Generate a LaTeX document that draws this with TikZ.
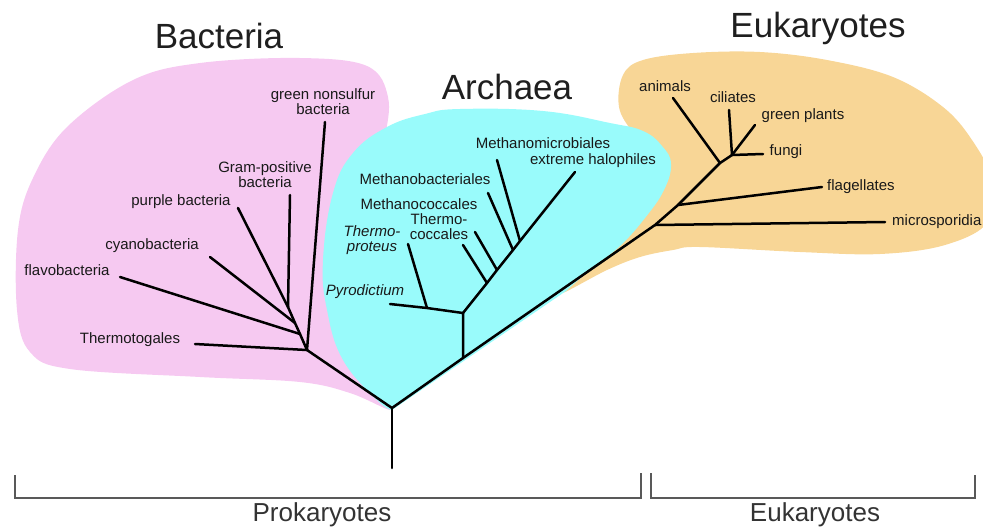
\documentclass[tikz,border=0pt]{standalone}
\usepackage{fontspec}
\setmainfont{Liberation Sans}
\definecolor{bacfill}{RGB}{246,201,241}
\definecolor{arcfill}{RGB}{153,251,251}
\definecolor{eukfill}{RGB}{248,214,150}
\begin{document}
\begin{tikzpicture}[x=1pt,y=-1pt,
  branch/.style={line width=2.5pt, black, line cap=round, line join=round},
  lab/.style={font=\fontsize{15}{15}\selectfont, inner sep=0pt, align=center, text=black!90},
  ilab/.style={font=\fontsize{15}{15}\selectfont\itshape, inner sep=0pt, align=center, text=black!90},
  title/.style={font=\fontsize{35}{36}\selectfont, inner sep=0pt, text=black!88},
  group/.style={font=\fontsize{26}{27}\selectfont, inner sep=0pt, text=black!80},
  bracket/.style={line width=1.4pt, black!65, line join=miter}]
\useasboundingbox (0,0) rectangle (983,531);

% ---------- coloured domains ----------
\fill[bacfill] plot[smooth cycle, tension=0.6] coordinates {
  (390,410) (350,393) (300,382) (200,377) (70,369) (30,352) (17,310) (18,230)
  (33,178) (67,127) (133,80) (200,63) (300,58) (367,66) (388,97) (384,140)
  (368,190) (358,260) (360,340) (378,395)};
\fill[eukfill] plot[smooth cycle, tension=0.6] coordinates {
  (562,293) (607,270) (640,257) (673,250) (700,247) (800,252) (880,254)
  (945,245) (988,222) (992,180) (972,140) (943,107) (893,77) (827,60)
  (760,52) (693,53) (643,60) (623,75) (619,107) (633,133) (655,160) (640,215) (600,262)};
\fill[arcfill] (392,410) -- plot[smooth, tension=0.7] coordinates {
  (566,291) (592,268) (620,246) (645,218) (664,190) (671,164) (662,146)
  (643,131) (610,123) (543,111) (460,109) (425,114) (387,127) (353,153)
  (333,193) (323,260) (327,310) (343,360) (377,400) (392,410)} -- cycle;

% ---------- tree points ----------
\coordinate (trunk) at (392,468);
\coordinate (root) at (392,408);
% bacteria
\coordinate (bac) at (307,350);
\coordinate (tThermotogales) at (195,344);
\coordinate (tGreen) at (325,122);
\coordinate (bj) at (288,307);
\coordinate (jFlavo) at (300,334);
\coordinate (jCyano) at (295,323);
\coordinate (tFlavo) at (120,277);
\coordinate (tCyano) at (210,257);
\coordinate (tPurple) at (238,208);
\coordinate (tGram) at (290,195);
% archaea
\coordinate (arc0) at (463,358);
\coordinate (arc1) at (463,313);
\coordinate (jPyro) at (427,308);
\coordinate (tPyro) at (390,304);
\coordinate (tProteus) at (408,244);
\coordinate (a1) at (487,283);
\coordinate (a2) at (497,270);
\coordinate (a3) at (513,250);
\coordinate (a4) at (520,241);
\coordinate (tHalo) at (575,172);
\coordinate (tCoccales) at (463,245);
\coordinate (tMcocc) at (475,232);
\coordinate (tMbact) at (488,193);
\coordinate (tMmicro) at (497,160);
% eukaryotes
\coordinate (euk1) at (655,225);
\coordinate (euk2) at (678,205);
\coordinate (jAnimals) at (720,163);
\coordinate (crown) at (732,155);
\coordinate (tMicro) at (885,222);
\coordinate (tFlag) at (822,187);
\coordinate (tAnimals) at (673,98);
\coordinate (tCiliates) at (729,110);
\coordinate (tPlants) at (755,125);
\coordinate (tFungi) at (763,154);

% ---------- branches ----------
\draw[branch] (trunk) -- (root);
\draw[branch] (root) -- (bac);
\draw[branch] (root) -- (arc0) -- (euk1) -- (euk2) -- (jAnimals) -- (crown);
\draw[branch] (bac) -- (tThermotogales);
\draw[branch] (bac) -- (tGreen);
\draw[branch] (bac) -- (jFlavo) -- (jCyano) -- (bj);
\draw[branch] (jFlavo) -- (tFlavo);
\draw[branch] (jCyano) -- (tCyano);
\draw[branch] (bj) -- (tPurple);
\draw[branch] (bj) -- (tGram);
\draw[branch] (arc0) -- (arc1) -- (jPyro) -- (tPyro);
\draw[branch] (jPyro) -- (tProteus);
\draw[branch] (arc1) -- (a1) -- (a2) -- (a3) -- (a4) -- (tHalo);
\draw[branch] (a1) -- (tCoccales);
\draw[branch] (a2) -- (tMcocc);
\draw[branch] (a3) -- (tMbact);
\draw[branch] (a4) -- (tMmicro);
\draw[branch] (euk1) -- (tMicro);
\draw[branch] (euk2) -- (tFlag);
\draw[branch] (jAnimals) -- (tAnimals);
\draw[branch] (crown) -- (tCiliates);
\draw[branch] (crown) -- (tPlants);
\draw[branch] (crown) -- (tFungi);

% ---------- labels ----------
\node[lab] (lThermotogales) at (130,340) {Thermotogales};
\node[lab] (lFlavo) at (67,270) {flavobacteria};
\node[lab] (lCyano) at (152,246) {cyanobacteria};
\node[lab] (lPurple) at (181,202) {purple bacteria};
\node[lab] (lGram) at (265,175) {Gram-positive\\bacteria};
\node[lab] (lGreen) at (323,102) {green nonsulfur\\bacteria};

\node[lab] (lMmicro) at (543,143) {Methanomicrobiales};
\node[lab] (lHalo) at (593,161) {extreme halophiles};
\node[lab] (lMbact) at (425,179) {Methanobacteriales};
\node[lab] (lMcocc) at (419,204) {Methanococcales};
\node[lab] (lCoccales) at (439,227) {Thermo-\\coccales};
\node[ilab] (lProteus) at (372,240) {Thermo-\\proteus};
\node[ilab] (lPyro) at (365,292) {Pyrodictium};

\node[lab] (lAnimals) at (665,86) {animals};
\node[lab] (lCiliates) at (733,97) {ciliates};
\node[lab] (lPlants) at (803,116) {green plants};
\node[lab] (lFungi) at (786,152) {fungi};
\node[lab, anchor=west] (lFlag) at (827,187) {flagellates};
\node[lab, anchor=west] (lMicro) at (892,222) {microsporidia};

\node[title] (tBacteria) at (219,36) {Bacteria};
\node[title] (tArchaea) at (507,87) {Archaea};
\node[title] (tEukaryotes) at (818,28) {Eukaryotes};

% ---------- brackets ----------
\coordinate (p1) at (15,475);
\coordinate (p2) at (15,498);
\coordinate (p3) at (641,498);
\coordinate (p4) at (641,473);
\coordinate (e1) at (651,473);
\coordinate (e2) at (651,498);
\coordinate (e3) at (975,498);
\coordinate (e4) at (975,475);
\draw[bracket] (p1) -- (p2) -- (p3) -- (p4);
\draw[bracket] (e1) -- (e2) -- (e3) -- (e4);
\node[group] (gPro) at (322,515) {Prokaryotes};
\node[group] (gEuk) at (815,515) {Eukaryotes};
\end{tikzpicture}
\end{document}
